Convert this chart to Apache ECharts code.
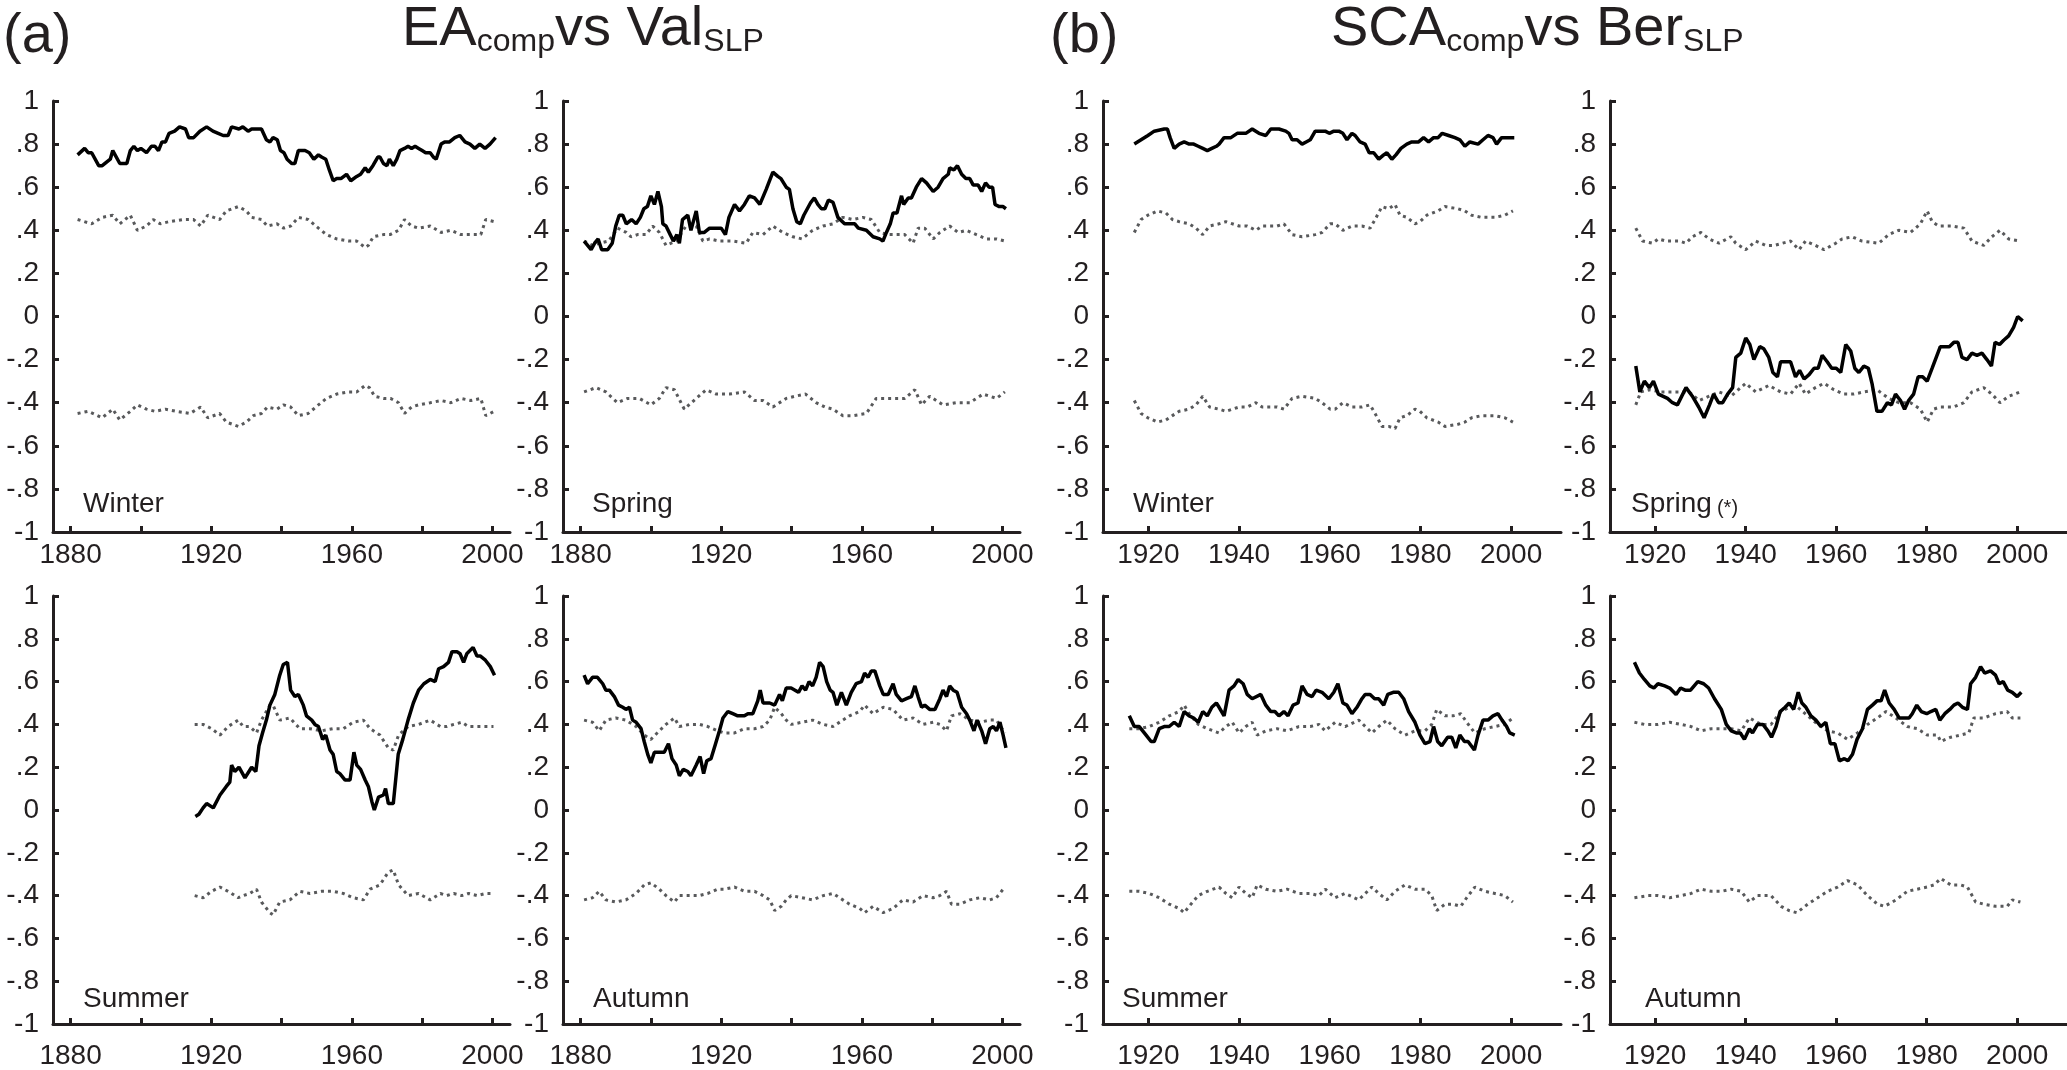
<!DOCTYPE html>
<html><head><meta charset="utf-8">
<script src="https://cdn.jsdelivr.net/npm/echarts@6/dist/echarts.min.js"></script>
<style>html,body{margin:0;padding:0;background:#fff}#c{width:2067px;height:1070px}</style>
</head><body><div id="c"></div>
<script>
// ---------- DATA (year, correlation) ----------
const aYearTicks = [1880,1900,1920,1940,1960,1980,2000];
const aYearLabels = [1880,1920,1960,2000];
const bYearTicks = [1920,1940,1960,1980,2000];
const bYearLabels = [1920,1940,1960,1980,2000];

const aWinterR = [[1882,0.75],[1884,0.78],[1885,0.76],[1886,0.76],[1888,0.70],[1889,0.70],[1890.5,0.72],[1891.3,0.73],[1892,0.77],[1894,0.71],[1896,0.71],[1897,0.77],[1898,0.79],[1899,0.77],[1900,0.78],[1901.6,0.76],[1903,0.79],[1904,0.79],[1905,0.77],[1906,0.81],[1907,0.81],[1908,0.85],[1909.6,0.86],[1911,0.88],[1912.7,0.87],[1913.6,0.83],[1915,0.83],[1916.8,0.86],[1918.7,0.88],[1920.5,0.86],[1922,0.85],[1923.4,0.84],[1924.8,0.84],[1925.8,0.88],[1927.9,0.87],[1929,0.88],[1930.5,0.86],[1931.5,0.87],[1934.3,0.87],[1935.7,0.82],[1936.7,0.81],[1937.6,0.83],[1938.8,0.82],[1939.7,0.77],[1940.7,0.76],[1941.6,0.73],[1942.9,0.71],[1943.8,0.71],[1944.8,0.77],[1945.7,0.77],[1946.7,0.77],[1947.9,0.76],[1949.2,0.73],[1950.5,0.75],[1951.4,0.74],[1952.6,0.73],[1953.6,0.68],[1954.7,0.63],[1955.7,0.64],[1956.9,0.64],[1958.5,0.66],[1959.7,0.63],[1961.4,0.65],[1962.5,0.66],[1963.8,0.69],[1964.7,0.67],[1966,0.70],[1967.4,0.74],[1968,0.74],[1969,0.71],[1970,0.70],[1970.7,0.73],[1971.8,0.70],[1972.8,0.73],[1973.7,0.77],[1975,0.78],[1976,0.79],[1977,0.78],[1978,0.79],[1979,0.78],[1980,0.77],[1981,0.76],[1982.3,0.76],[1983.2,0.74],[1984,0.73],[1985.4,0.80],[1986.4,0.81],[1987.8,0.81],[1989.3,0.83],[1990.7,0.84],[1992.2,0.81],[1993.6,0.80],[1995,0.78],[1996.4,0.80],[1997.9,0.78],[1999.3,0.80],[2000.9,0.83]];
const aWinterUp = [[1882,0.45],[1886,0.43],[1889,0.46],[1892,0.47],[1894,0.43],[1897,0.47],[1899,0.40],[1901.6,0.42],[1903.5,0.45],[1905.5,0.43],[1908,0.44],[1912,0.45],[1915,0.45],[1917,0.42],[1919,0.47],[1922.4,0.45],[1924.3,0.49],[1927.7,0.51],[1930,0.49],[1931.5,0.46],[1934.3,0.45],[1936,0.42],[1938.7,0.43],[1940.6,0.41],[1942.6,0.42],[1944.8,0.46],[1947.6,0.45],[1950.5,0.41],[1952.8,0.38],[1955.7,0.36],[1959,0.35],[1961.4,0.35],[1963.8,0.32],[1964.7,0.33],[1966.1,0.37],[1969,0.38],[1970.9,0.38],[1973.3,0.40],[1975,0.45],[1977,0.42],[1979,0.41],[1982.3,0.42],[1985.4,0.39],[1988.2,0.40],[1991,0.38],[1993.9,0.38],[1996.7,0.38],[1998.1,0.45],[2000.5,0.44]];
const aWinterLo = [[1882,-0.45],[1885,-0.44],[1889,-0.47],[1892,-0.43],[1894,-0.48],[1897,-0.44],[1899,-0.41],[1901.6,-0.43],[1904,-0.44],[1907,-0.43],[1910,-0.44],[1914,-0.45],[1917,-0.42],[1919,-0.47],[1922.4,-0.45],[1924.3,-0.49],[1927.7,-0.51],[1930,-0.49],[1932,-0.46],[1934.3,-0.45],[1936,-0.42],[1938.7,-0.43],[1940.6,-0.41],[1942.6,-0.42],[1944.8,-0.46],[1947.6,-0.45],[1950.5,-0.41],[1952.8,-0.38],[1955.7,-0.36],[1959,-0.35],[1961.4,-0.35],[1963.8,-0.32],[1965,-0.33],[1966.5,-0.37],[1969,-0.38],[1971,-0.38],[1973.3,-0.40],[1975,-0.45],[1977,-0.42],[1979,-0.41],[1982.3,-0.40],[1985.4,-0.39],[1988.2,-0.40],[1991,-0.38],[1993.9,-0.39],[1996.7,-0.38],[1998.1,-0.46],[2000.5,-0.44]];

const aSpringR = [[1881,0.35],[1883,0.31],[1884,0.34],[1885,0.36],[1886,0.31],[1887.7,0.31],[1889,0.34],[1890,0.42],[1891,0.47],[1892,0.47],[1893,0.43],[1894.5,0.45],[1895.8,0.43],[1897,0.46],[1898,0.50],[1899,0.51],[1900,0.56],[1901,0.52],[1902,0.58],[1903,0.51],[1903.4,0.43],[1904.3,0.42],[1905.5,0.38],[1906.4,0.35],[1907.4,0.38],[1908.1,0.34],[1909,0.45],[1910.5,0.47],[1911.4,0.40],[1912.9,0.49],[1913.8,0.39],[1915.2,0.39],[1916.7,0.41],[1918.6,0.41],[1920,0.41],[1921.2,0.38],[1922.2,0.46],[1923.8,0.52],[1925.2,0.49],[1926.6,0.52],[1928,0.56],[1929.5,0.55],[1931,0.52],[1932.8,0.59],[1934.7,0.67],[1936.1,0.65],[1937,0.64],[1938.5,0.60],[1939.4,0.59],[1940.4,0.50],[1941.5,0.44],[1942.5,0.43],[1943.5,0.47],[1944.5,0.50],[1945.5,0.53],[1946.5,0.55],[1947.5,0.52],[1948.5,0.50],[1949.5,0.50],[1950.5,0.54],[1951.8,0.53],[1953.2,0.46],[1955.1,0.43],[1957,0.43],[1958,0.43],[1959,0.41],[1961.3,0.40],[1963.2,0.37],[1965.1,0.36],[1966,0.35],[1967,0.39],[1968.1,0.43],[1968.9,0.48],[1970,0.48],[1971.3,0.56],[1971.9,0.52],[1973.2,0.55],[1974.1,0.55],[1975.5,0.60],[1977,0.64],[1978.4,0.62],[1980.3,0.58],[1981.7,0.60],[1983.1,0.64],[1984.6,0.66],[1985,0.69],[1986.2,0.68],[1987.2,0.70],[1988.4,0.66],[1989.6,0.64],[1990.7,0.64],[1991.7,0.61],[1993.1,0.61],[1994.1,0.58],[1995.2,0.62],[1996.2,0.60],[1997.2,0.60],[1997.9,0.52],[1999.1,0.51],[2000.2,0.51],[2001,0.50]];
const aSpringUp = [[1881,0.35],[1883.4,0.33],[1885.3,0.34],[1888,0.35],[1890.5,0.41],[1893,0.39],[1894.3,0.37],[1896.2,0.38],[1898.6,0.38],[1900.5,0.42],[1902.4,0.39],[1904.3,0.33],[1907.2,0.35],[1910,0.42],[1912.9,0.42],[1914.8,0.35],[1916.7,0.36],[1919.5,0.35],[1923.3,0.35],[1927.1,0.34],[1929,0.39],[1931.9,0.38],[1934.7,0.42],[1937.5,0.39],[1940.4,0.37],[1943,0.36],[1946,0.40],[1949,0.42],[1951.8,0.43],[1954.6,0.46],[1957.5,0.45],[1960.3,0.46],[1962.7,0.45],[1965.1,0.39],[1967.5,0.38],[1970.3,0.38],[1972.2,0.38],[1974.6,0.34],[1976,0.41],[1977.9,0.41],[1980.3,0.36],[1982.2,0.39],[1985,0.42],[1987.4,0.39],[1989.8,0.40],[1992.6,0.38],[1995.5,0.36],[1998.3,0.36],[2000.7,0.35]];
const aSpringLo = [[1881,-0.35],[1884.4,-0.33],[1887.2,-0.35],[1890.5,-0.40],[1893.4,-0.38],[1896.7,-0.38],[1900,-0.41],[1902.4,-0.38],[1904.3,-0.33],[1906.7,-0.34],[1909.5,-0.43],[1912.9,-0.38],[1915.7,-0.34],[1918.6,-0.36],[1922.4,-0.36],[1926.6,-0.35],[1929.5,-0.39],[1931.9,-0.39],[1934.7,-0.42],[1938.5,-0.38],[1941,-0.37],[1944,-0.36],[1947,-0.40],[1949.5,-0.42],[1951.8,-0.43],[1954.6,-0.46],[1957.5,-0.46],[1961.3,-0.45],[1964.1,-0.38],[1968,-0.38],[1972.2,-0.38],[1975.1,-0.34],[1977,-0.41],[1979.3,-0.37],[1983.1,-0.41],[1986.9,-0.40],[1990.7,-0.40],[1994.5,-0.36],[1998.3,-0.38],[2000.7,-0.35]];

const aSummerR = [[1915.5,-0.03],[1916.5,-0.02],[1917.7,0.01],[1918.7,0.03],[1920.6,0.01],[1922.5,0.07],[1924.3,0.11],[1925.3,0.13],[1925.8,0.21],[1926.7,0.18],[1927.9,0.20],[1929.6,0.15],[1931.5,0.20],[1932.7,0.18],[1933.6,0.30],[1934.6,0.36],[1935.7,0.42],[1936.7,0.49],[1938.1,0.54],[1939.5,0.63],[1940.5,0.68],[1941.7,0.69],[1942.6,0.56],[1943.8,0.53],[1944.8,0.54],[1946.2,0.49],[1947.1,0.44],[1948.6,0.42],[1949.5,0.40],[1950.5,0.39],[1951.7,0.33],[1952.6,0.35],[1953.8,0.28],[1954.7,0.26],[1955.7,0.18],[1956.6,0.17],[1958.1,0.14],[1959.5,0.14],[1960.6,0.27],[1961.4,0.21],[1962.5,0.19],[1963.8,0.14],[1964.7,0.11],[1965.7,0.04],[1966.4,0.00],[1967.6,0.06],[1969,0.07],[1969.6,0.10],[1970.4,0.03],[1971.8,0.03],[1973.2,0.26],[1974.5,0.33],[1976,0.42],[1977.5,0.50],[1979,0.56],[1980.5,0.59],[1982.3,0.61],[1983.7,0.60],[1984.7,0.66],[1986.1,0.67],[1987.5,0.69],[1988.5,0.74],[1989.9,0.74],[1990.8,0.73],[1991.8,0.69],[1992.7,0.73],[1994.5,0.76],[1995.6,0.72],[1996.5,0.72],[1998,0.70],[1999.4,0.67],[2000.6,0.63]];
const aSummerUp = [[1915.3,0.40],[1917.7,0.40],[1920.1,0.38],[1922.5,0.35],[1924.8,0.39],[1927.7,0.42],[1929.1,0.39],[1931,0.39],[1932.9,0.36],[1934.3,0.42],[1936.7,0.49],[1937.6,0.49],[1939.5,0.42],[1942.4,0.43],[1945.2,0.38],[1948.1,0.38],[1951.4,0.37],[1954.7,0.38],[1957.6,0.38],[1960.4,0.41],[1963.3,0.42],[1965.2,0.38],[1968,0.35],[1970.4,0.29],[1971.8,0.28],[1973.3,0.35],[1976,0.39],[1979,0.40],[1982.3,0.42],[1985.2,0.39],[1987,0.39],[1989,0.40],[1991.3,0.41],[1993.2,0.39],[1995.6,0.39],[1998,0.39],[2000.3,0.39]];
const aSummerLo = [[1915.3,-0.40],[1917.7,-0.41],[1920.1,-0.38],[1922.5,-0.36],[1924.8,-0.38],[1927.7,-0.41],[1929.1,-0.40],[1931,-0.39],[1932.9,-0.37],[1934.3,-0.43],[1936.7,-0.48],[1937.6,-0.49],[1939.5,-0.43],[1942.4,-0.42],[1945.2,-0.38],[1948.1,-0.39],[1951.4,-0.38],[1954.7,-0.38],[1957.6,-0.39],[1960.4,-0.41],[1963.3,-0.42],[1965.2,-0.37],[1968,-0.35],[1970.4,-0.29],[1971.8,-0.28],[1973.3,-0.35],[1976,-0.40],[1979,-0.39],[1982.3,-0.42],[1985.2,-0.39],[1987,-0.40],[1989,-0.39],[1991.3,-0.40],[1993.2,-0.39],[1995.6,-0.40],[1998,-0.39],[2000.3,-0.39]];

const aAutumnR = [[1881,0.63],[1882,0.59],[1883.4,0.62],[1884.8,0.62],[1886.3,0.59],[1887.2,0.56],[1888.2,0.56],[1889.6,0.53],[1890.8,0.49],[1892,0.48],[1892.9,0.47],[1893.9,0.48],[1894.8,0.42],[1895.8,0.41],[1897.2,0.38],[1898.1,0.32],[1899.1,0.26],[1900,0.22],[1901,0.27],[1902.4,0.27],[1903.8,0.27],[1905,0.31],[1906,0.24],[1907.2,0.21],[1908.1,0.16],[1909.2,0.19],[1910.5,0.18],[1911.4,0.16],[1912.9,0.21],[1914,0.25],[1915,0.17],[1915.9,0.23],[1917.1,0.24],[1918.4,0.31],[1919.5,0.37],[1920.5,0.43],[1921.9,0.46],[1923.3,0.45],[1924.7,0.44],[1925.7,0.44],[1926.6,0.44],[1927.6,0.45],[1929,0.45],[1930.4,0.51],[1931.1,0.56],[1931.9,0.50],[1933.8,0.50],[1935.2,0.49],[1936.6,0.54],[1937.4,0.51],[1938.5,0.57],[1939.9,0.57],[1941,0.56],[1942,0.55],[1943,0.58],[1944,0.56],[1945,0.60],[1946,0.58],[1947,0.62],[1948,0.69],[1949,0.67],[1950,0.60],[1951,0.56],[1951.8,0.55],[1952.9,0.49],[1954.2,0.55],[1955.6,0.49],[1957,0.55],[1958.4,0.59],[1959.9,0.60],[1960.8,0.64],[1961.8,0.62],[1962.7,0.65],[1963.7,0.65],[1965.1,0.58],[1966.1,0.54],[1967.5,0.54],[1968.9,0.59],[1969.8,0.54],[1971.3,0.51],[1972.7,0.52],[1974.1,0.53],[1975.1,0.58],[1976,0.53],[1977,0.48],[1977.9,0.49],[1979.3,0.47],[1980.8,0.47],[1982.2,0.52],[1983.1,0.56],[1984.1,0.53],[1985,0.58],[1986,0.56],[1987.1,0.55],[1988.4,0.48],[1989.8,0.45],[1990.7,0.42],[1991.9,0.37],[1992.8,0.42],[1994.1,0.37],[1995.2,0.31],[1996.4,0.38],[1997.4,0.39],[1998.3,0.37],[1999.3,0.41],[2000.2,0.35],[2001,0.29]];
const aAutumnUp = [[1881,0.42],[1883.4,0.41],[1885.3,0.37],[1887.2,0.42],[1890,0.43],[1892.9,0.42],[1895.8,0.39],[1898.1,0.35],[1900,0.33],[1902.4,0.37],[1904.3,0.40],[1906.7,0.43],[1908.1,0.39],[1911,0.40],[1913.8,0.40],[1916.2,0.39],[1919,0.37],[1920.9,0.36],[1923.8,0.36],[1926.6,0.38],[1929.5,0.38],[1931.9,0.39],[1933.8,0.42],[1935.2,0.48],[1937.1,0.45],[1938.5,0.42],[1939.9,0.40],[1943,0.41],[1946,0.42],[1949,0.40],[1951.8,0.39],[1954.6,0.42],[1956.5,0.44],[1959.4,0.46],[1960.8,0.49],[1963.2,0.45],[1966.1,0.48],[1968.9,0.47],[1971.7,0.42],[1974.6,0.43],[1977.4,0.40],[1980.3,0.41],[1982.2,0.40],[1984.1,0.37],[1985.5,0.44],[1987.9,0.45],[1990.7,0.42],[1993.6,0.41],[1996.4,0.42],[1998.3,0.42],[2000.7,0.36]];
const aAutumnLo = [[1881,-0.42],[1883.4,-0.41],[1885.3,-0.38],[1887.2,-0.42],[1890,-0.43],[1892.9,-0.42],[1895.8,-0.39],[1898.1,-0.35],[1900,-0.34],[1902.4,-0.37],[1904.3,-0.40],[1906.7,-0.43],[1908.1,-0.40],[1911,-0.40],[1913.8,-0.40],[1916.2,-0.39],[1919,-0.37],[1920.9,-0.37],[1923.8,-0.36],[1926.6,-0.38],[1929.5,-0.38],[1931.9,-0.40],[1933.8,-0.42],[1935.2,-0.47],[1937.1,-0.45],[1938.5,-0.42],[1939.9,-0.40],[1943,-0.41],[1946,-0.42],[1949,-0.40],[1951.8,-0.39],[1954.6,-0.42],[1956.5,-0.44],[1959.4,-0.46],[1960.8,-0.48],[1963.2,-0.45],[1966.1,-0.48],[1968.9,-0.46],[1971.7,-0.42],[1974.6,-0.43],[1977.4,-0.40],[1980.3,-0.41],[1982.2,-0.40],[1984.1,-0.38],[1985.5,-0.44],[1987.9,-0.44],[1990.7,-0.42],[1993.6,-0.41],[1996.4,-0.42],[1998.3,-0.41],[2000.7,-0.36]];

const bWinterR = [[1916.9,0.80],[1918.4,0.82],[1919.9,0.84],[1921.3,0.86],[1923.5,0.87],[1924.2,0.87],[1924.8,0.83],[1925.7,0.78],[1926.8,0.80],[1927.9,0.81],[1929,0.80],[1930,0.80],[1931,0.79],[1932,0.78],[1933,0.77],[1934,0.78],[1935,0.79],[1935.6,0.80],[1936.7,0.83],[1938.2,0.83],[1939.6,0.85],[1941.5,0.85],[1942.9,0.87],[1944.4,0.85],[1945.9,0.84],[1947,0.87],[1948.8,0.87],[1950.3,0.86],[1951,0.85],[1951.7,0.82],[1952.8,0.82],[1953.9,0.80],[1954.8,0.81],[1955.7,0.82],[1956.8,0.86],[1957.9,0.86],[1959,0.86],[1959.9,0.85],[1960.9,0.86],[1962,0.86],[1962.9,0.85],[1963.8,0.82],[1964.9,0.85],[1965.6,0.84],[1966.7,0.81],[1967.8,0.80],[1968.7,0.76],[1969.7,0.76],[1970.8,0.73],[1971.9,0.75],[1972.6,0.76],[1973.7,0.73],[1974.6,0.75],[1975.7,0.78],[1977,0.80],[1978.1,0.81],[1979.6,0.81],[1980.7,0.83],[1981.8,0.81],[1982.9,0.83],[1983.9,0.83],[1984.8,0.85],[1986.2,0.84],[1987.6,0.83],[1988.7,0.82],[1989.8,0.79],[1990.9,0.81],[1992.7,0.80],[1993.8,0.82],[1994.9,0.84],[1996,0.83],[1996.8,0.80],[1997.9,0.83],[1999.3,0.83],[2000.7,0.83]];
const bWinterUp = [[1916.9,0.39],[1918.4,0.45],[1919.9,0.47],[1922,0.49],[1923.9,0.48],[1925.3,0.45],[1926.8,0.44],[1929,0.43],[1930.5,0.41],[1932,0.38],[1933.5,0.42],[1935.6,0.43],[1937.1,0.44],[1940,0.42],[1941.8,0.42],[1943.7,0.40],[1945.1,0.42],[1948.4,0.42],[1949.9,0.43],[1951.7,0.38],[1953.9,0.37],[1956.8,0.38],[1958.3,0.39],[1960.1,0.43],[1961.2,0.43],[1962.9,0.40],[1964.9,0.42],[1967.1,0.42],[1968.9,0.41],[1970,0.45],[1971.5,0.51],[1973,0.50],[1974.4,0.52],[1975.5,0.47],[1977,0.46],[1978.8,0.43],[1979.9,0.44],[1981.4,0.47],[1983.9,0.49],[1985.4,0.51],[1988.3,0.50],[1989.8,0.49],[1991.3,0.47],[1993.5,0.46],[1996.4,0.46],[1998.6,0.47],[2000.4,0.49]];
const bWinterLo = [[1916.9,-0.39],[1918.4,-0.45],[1919.9,-0.47],[1922,-0.49],[1923.9,-0.48],[1925.3,-0.46],[1926.8,-0.44],[1929,-0.43],[1930.5,-0.41],[1932,-0.37],[1933.5,-0.42],[1935.6,-0.43],[1937.1,-0.44],[1940,-0.42],[1941.8,-0.42],[1943.7,-0.40],[1945.1,-0.42],[1948.4,-0.42],[1949.9,-0.43],[1951.7,-0.38],[1953.9,-0.37],[1956.8,-0.38],[1958.3,-0.40],[1960.1,-0.43],[1961.2,-0.43],[1962.9,-0.40],[1964.9,-0.42],[1967.1,-0.42],[1968.9,-0.41],[1970,-0.45],[1971.5,-0.51],[1973,-0.51],[1974.4,-0.52],[1975.5,-0.47],[1977,-0.46],[1978.8,-0.43],[1979.9,-0.44],[1981.4,-0.47],[1983.9,-0.49],[1985.4,-0.51],[1988.3,-0.50],[1989.8,-0.49],[1991.3,-0.47],[1993.5,-0.46],[1996.4,-0.46],[1998.6,-0.47],[2000.4,-0.49]];

const bSpringR = [[1915.7,-0.23],[1916.6,-0.35],[1917.6,-0.30],[1918.7,-0.33],[1919.6,-0.30],[1920.7,-0.36],[1922.7,-0.38],[1923.8,-0.40],[1924.9,-0.41],[1926.8,-0.33],[1928.2,-0.37],[1929.6,-0.42],[1930.8,-0.47],[1932,-0.41],[1932.9,-0.36],[1934,-0.40],[1934.9,-0.40],[1936,-0.36],[1937.1,-0.33],[1937.8,-0.19],[1938.9,-0.17],[1940,-0.10],[1940.9,-0.13],[1941.8,-0.20],[1943.1,-0.14],[1944,-0.15],[1945.1,-0.19],[1946,-0.26],[1947,-0.28],[1947.7,-0.21],[1948.8,-0.21],[1949.9,-0.21],[1951,-0.28],[1951.9,-0.25],[1952.9,-0.29],[1954,-0.27],[1955.1,-0.24],[1956,-0.24],[1956.9,-0.18],[1958,-0.21],[1959,-0.24],[1960,-0.24],[1961,-0.26],[1962.1,-0.13],[1963.2,-0.16],[1964.1,-0.24],[1965,-0.26],[1966.1,-0.23],[1967.1,-0.24],[1967.9,-0.31],[1969,-0.44],[1970.1,-0.44],[1971.3,-0.40],[1972.2,-0.41],[1973.1,-0.36],[1974.2,-0.39],[1975.1,-0.43],[1976,-0.39],[1977.1,-0.36],[1978.1,-0.28],[1979.1,-0.28],[1980.1,-0.30],[1981.2,-0.24],[1982.1,-0.19],[1983,-0.14],[1984.1,-0.14],[1985,-0.14],[1986,-0.12],[1986.9,-0.12],[1987.8,-0.19],[1988.9,-0.20],[1990,-0.17],[1991.1,-0.18],[1992.2,-0.17],[1993.3,-0.20],[1994.3,-0.23],[1995.1,-0.12],[1996.1,-0.13],[1997,-0.11],[1998.1,-0.09],[1999.2,-0.05],[2000.1,0.00],[2001.2,-0.02]];
const bSpringUp = [[1915.7,0.41],[1917.2,0.35],[1919.4,0.34],[1920.7,0.36],[1922.4,0.35],[1925.3,0.35],[1926.8,0.34],[1928.2,0.37],[1930.1,0.39],[1931.9,0.36],[1934.1,0.34],[1936.7,0.37],[1937.8,0.34],[1940,0.31],[1942.2,0.35],[1944.4,0.33],[1946.3,0.33],[1948.1,0.34],[1949.9,0.35],[1951.8,0.31],[1953.2,0.35],[1955.4,0.33],[1957.3,0.31],[1959.9,0.34],[1961.3,0.36],[1963.5,0.37],[1965.7,0.35],[1969.4,0.34],[1971.6,0.38],[1973.8,0.40],[1976.4,0.39],[1978.6,0.43],[1980.1,0.49],[1981.2,0.44],[1982.6,0.42],[1985.6,0.42],[1988.2,0.41],[1990,0.35],[1992.6,0.33],[1994.4,0.37],[1996.2,0.40],[1998.1,0.36],[2000.7,0.35]];
const bSpringLo = [[1915.7,-0.41],[1916.8,-0.35],[1918.7,-0.34],[1921.2,-0.35],[1923.5,-0.35],[1925.3,-0.35],[1927.5,-0.35],[1929.7,-0.39],[1931.9,-0.37],[1934.1,-0.35],[1936.7,-0.37],[1940,-0.31],[1942.2,-0.35],[1945.1,-0.32],[1947.7,-0.35],[1949.9,-0.36],[1951.8,-0.31],[1953.2,-0.36],[1955.4,-0.33],[1957.3,-0.31],[1959.5,-0.34],[1961.7,-0.36],[1963.9,-0.36],[1966.1,-0.35],[1969,-0.34],[1971.6,-0.38],[1973.8,-0.40],[1976.4,-0.40],[1978.6,-0.43],[1980.1,-0.49],[1981.5,-0.43],[1983,-0.42],[1985.9,-0.42],[1988.2,-0.40],[1990,-0.35],[1992.6,-0.33],[1994.4,-0.36],[1996.2,-0.40],[1998.1,-0.37],[2000.7,-0.35]];

const bSummerR = [[1915.8,0.44],[1916.9,0.39],[1918,0.39],[1919.5,0.35],[1920.6,0.32],[1921.3,0.32],[1922.4,0.38],[1923.5,0.39],[1924.6,0.39],[1925.7,0.41],[1926.8,0.39],[1927.9,0.46],[1929,0.44],[1930,0.43],[1931,0.41],[1932,0.46],[1933,0.44],[1934,0.48],[1935,0.50],[1935.6,0.48],[1936.7,0.44],[1937.8,0.56],[1938.9,0.58],[1939.8,0.61],[1940.9,0.59],[1941.8,0.54],[1942.9,0.52],[1944.8,0.54],[1945.9,0.49],[1947,0.46],[1947.9,0.46],[1948.8,0.44],[1949.9,0.46],[1950.8,0.44],[1951.9,0.49],[1953,0.50],[1953.9,0.58],[1955,0.54],[1956.1,0.53],[1957,0.56],[1958.3,0.55],[1959.8,0.52],[1960.9,0.55],[1961.8,0.59],[1962.9,0.50],[1963.8,0.49],[1964.9,0.45],[1966,0.48],[1967.1,0.52],[1967.8,0.54],[1968.9,0.54],[1969.9,0.52],[1970.8,0.52],[1971.9,0.49],[1972.8,0.54],[1974,0.55],[1975.2,0.55],[1976.3,0.52],[1977.4,0.46],[1978.8,0.41],[1979.9,0.35],[1981,0.31],[1982.1,0.32],[1982.9,0.39],[1983.8,0.32],[1984.7,0.30],[1986,0.34],[1986.9,0.34],[1987.8,0.29],[1988.7,0.35],[1989.7,0.32],[1990.5,0.32],[1991.9,0.28],[1992.7,0.35],[1993.8,0.42],[1994.9,0.42],[1996,0.44],[1997.1,0.45],[1998,0.42],[1999,0.39],[1999.7,0.36],[2000.8,0.35]];
const bSummerUp = [[1915.8,0.38],[1918,0.38],[1920.2,0.39],[1922.4,0.41],[1924.6,0.44],[1926.8,0.46],[1927.9,0.49],[1929,0.45],[1931,0.40],[1933,0.38],[1935.6,0.36],[1937.1,0.39],[1938.5,0.41],[1940,0.36],[1941.5,0.39],[1942.9,0.41],[1944,0.35],[1945.9,0.37],[1948.4,0.38],[1950.6,0.37],[1953.2,0.39],[1955.7,0.39],[1957.6,0.40],[1959,0.37],[1961.2,0.41],[1963.4,0.39],[1966.4,0.42],[1969.3,0.36],[1970.8,0.39],[1972.6,0.42],[1974.4,0.38],[1976.6,0.35],[1978.8,0.37],[1981,0.37],[1982.5,0.40],[1983.6,0.47],[1985.4,0.44],[1987.2,0.44],[1988.9,0.45],[1990.2,0.41],[1992,0.36],[1994.2,0.38],[1996.4,0.39],[1998.6,0.40],[2000.4,0.43]];
const bSummerLo = [[1915.8,-0.38],[1918,-0.38],[1920.2,-0.39],[1922.4,-0.41],[1924.6,-0.44],[1926.8,-0.46],[1927.9,-0.48],[1929,-0.45],[1931,-0.40],[1933,-0.38],[1935.6,-0.36],[1937.1,-0.39],[1938.5,-0.41],[1940,-0.36],[1941.5,-0.39],[1942.9,-0.41],[1944,-0.35],[1945.9,-0.37],[1948.4,-0.38],[1950.6,-0.37],[1953.2,-0.39],[1955.7,-0.39],[1957.6,-0.40],[1959,-0.37],[1961.2,-0.41],[1963.4,-0.39],[1966.4,-0.42],[1969.3,-0.36],[1970.8,-0.39],[1972.6,-0.42],[1974.4,-0.38],[1976.6,-0.35],[1978.8,-0.37],[1981,-0.37],[1982.5,-0.40],[1983.6,-0.47],[1985.4,-0.44],[1987.2,-0.44],[1988.9,-0.45],[1990.2,-0.41],[1992,-0.36],[1994.2,-0.38],[1996.4,-0.39],[1998.6,-0.40],[2000.4,-0.43]];

const bAutumnR = [[1915.4,0.69],[1916.5,0.64],[1917.6,0.61],[1918.8,0.58],[1919.7,0.57],[1920.6,0.59],[1922.1,0.58],[1923.2,0.57],[1924.6,0.54],[1925.6,0.57],[1926.6,0.56],[1927.8,0.56],[1929.4,0.60],[1930.7,0.59],[1931.8,0.57],[1933.1,0.52],[1934.6,0.47],[1935.7,0.40],[1936.8,0.37],[1937.9,0.36],[1938.8,0.36],[1939.7,0.33],[1940.8,0.38],[1941.5,0.36],[1942.6,0.40],[1943.8,0.40],[1944.9,0.37],[1945.7,0.34],[1946.7,0.39],[1947.6,0.46],[1948.7,0.48],[1949.6,0.50],[1950.6,0.47],[1951.6,0.55],[1952.4,0.50],[1953.3,0.48],[1954.4,0.44],[1955.5,0.42],[1956.6,0.39],[1957.7,0.41],[1958.7,0.31],[1959.7,0.31],[1960.7,0.23],[1961.8,0.24],[1962.6,0.23],[1963.6,0.26],[1964.6,0.33],[1965.8,0.38],[1966.9,0.47],[1968,0.49],[1969,0.51],[1969.9,0.51],[1970.7,0.56],[1971.7,0.50],[1972.8,0.47],[1973.9,0.43],[1975,0.43],[1976.1,0.43],[1976.8,0.45],[1977.8,0.49],[1978.8,0.46],[1980,0.45],[1980.9,0.46],[1982,0.47],[1982.9,0.42],[1984,0.45],[1985.1,0.47],[1986,0.49],[1986.9,0.50],[1987.9,0.48],[1989,0.47],[1989.7,0.59],[1990.8,0.62],[1991.9,0.67],[1992.8,0.64],[1994.1,0.65],[1995.2,0.63],[1996,0.59],[1996.9,0.60],[1997.9,0.56],[1998.9,0.55],[2000,0.53],[2000.9,0.55]];
const bAutumnUp = [[1915.4,0.41],[1917.6,0.40],[1920.6,0.40],[1923.2,0.41],[1925.7,0.40],[1927.9,0.39],[1930.1,0.37],[1932.4,0.38],[1934.6,0.38],[1936.8,0.38],[1939,0.37],[1940.8,0.43],[1943.4,0.40],[1945.6,0.40],[1947.8,0.46],[1949.6,0.48],[1951.5,0.48],[1953.7,0.44],[1955.9,0.40],[1958.1,0.37],[1960.3,0.36],[1962.5,0.33],[1964.7,0.36],[1966.9,0.40],[1969.1,0.43],[1971,0.46],[1973.2,0.43],[1975.7,0.39],[1977.9,0.38],[1980.1,0.35],[1982.4,0.35],[1983.1,0.32],[1985.3,0.34],[1987.5,0.35],[1989.3,0.36],[1990.4,0.43],[1992.6,0.43],[1995.2,0.45],[1997.8,0.46],[1998.9,0.43],[2000.7,0.43]];
const bAutumnLo = [[1915.4,-0.41],[1918.4,-0.40],[1920.6,-0.40],[1923.2,-0.41],[1925.7,-0.40],[1927.9,-0.39],[1930.1,-0.37],[1932.4,-0.38],[1934.6,-0.38],[1936.8,-0.37],[1939,-0.38],[1940.8,-0.43],[1942.6,-0.40],[1945.6,-0.40],[1947.8,-0.45],[1949.6,-0.47],[1951.3,-0.48],[1953.7,-0.44],[1955.9,-0.41],[1958.1,-0.38],[1960.3,-0.36],[1962.5,-0.33],[1964.7,-0.35],[1966.9,-0.40],[1969.1,-0.44],[1970.7,-0.45],[1973.2,-0.42],[1975.7,-0.38],[1977.9,-0.37],[1980.1,-0.36],[1981.6,-0.35],[1983.1,-0.32],[1985.3,-0.35],[1987.5,-0.35],[1989,-0.36],[1990.8,-0.43],[1992.6,-0.44],[1995.2,-0.45],[1997.8,-0.45],[1998.9,-0.42],[2000.7,-0.43]];

const seasonNames = ['Winter','Spring','Summer','Autumn'];

// ---------- LAYOUT ----------
const AX = '#231f20';
const FONT = '"Liberation Sans", Arial, Helvetica, sans-serif';
const ROW_TOP = [101, 596];
const GRID_H = 431;
const panels = [
  {r:aWinterR, up:aWinterUp, lo:aWinterLo, left:53,   row:0, set:'a', name:seasonNames[0], lx:83},
  {r:aSpringR, up:aSpringUp, lo:aSpringLo, left:563,  row:0, set:'a', name:seasonNames[1], lx:592},
  {r:aSummerR, up:aSummerUp, lo:aSummerLo, left:53,   row:1, set:'a', name:seasonNames[2], lx:83},
  {r:aAutumnR, up:aAutumnUp, lo:aAutumnLo, left:563,  row:1, set:'a', name:seasonNames[3], lx:593},
  {r:bWinterR, up:bWinterUp, lo:bWinterLo, left:1103, row:0, set:'b', name:seasonNames[0], lx:1133},
  {r:bSpringR, up:bSpringUp, lo:bSpringLo, left:1610, row:0, set:'b', name:seasonNames[1], lx:1631, star:true},
  {r:bSummerR, up:bSummerUp, lo:bSummerLo, left:1103, row:1, set:'b', name:seasonNames[2], lx:1122},
  {r:bAutumnR, up:bAutumnUp, lo:bAutumnLo, left:1610, row:1, set:'b', name:seasonNames[3], lx:1645}
];
const SETS = {
  a: {min:1875, max:2005, width:457, ticks:aYearTicks, labels:aYearLabels},
  b: {min:1910, max:2011, width:458, ticks:bYearTicks, labels:bYearLabels}
};

function yFmt(v){
  const r = Math.round(v*10)/10;
  if (r === 0) return '0';
  if (r === 1) return '1';
  if (r === -1) return '-1';
  return (r < 0 ? '-' : '') + Math.abs(r).toFixed(1).slice(1);
}

const grid = [], xAxis = [], yAxis = [], series = [], title = [];
panels.forEach((p, i) => {
  const s = SETS[p.set];
  grid.push({left:p.left, top:ROW_TOP[p.row], width:s.width, height:GRID_H, containLabel:false});
  xAxis.push({
    type:'value', gridIndex:i, min:s.min, max:s.max, position:'bottom',
    axisLine:{show:true, onZero:false, lineStyle:{color:AX, width:3}},
    axisTick:{show:true, inside:true, length:6, customValues:s.ticks, lineStyle:{color:AX, width:3}},
    axisLabel:{show:true, customValues:s.labels, formatter:v=>String(v), margin:p.row===0?9:18,
      fontSize:28, color:AX, fontFamily:FONT},
    splitLine:{show:false}
  });
  yAxis.push({
    type:'value', gridIndex:i, min:-1, max:1, interval:0.2, position:'left',
    axisLine:{show:true, onZero:false, lineStyle:{color:AX, width:3}},
    axisTick:{show:true, inside:true, length:6, lineStyle:{color:AX, width:3}},
    axisLabel:{show:true, formatter:yFmt, margin:14, fontSize:28, color:AX, fontFamily:FONT,
      showMinLabel:true, showMaxLabel:true},
    splitLine:{show:false}
  });
  const common = {type:'line', xAxisIndex:i, yAxisIndex:i, showSymbol:false, symbol:'none', silent:true, animation:false};
  series.push(Object.assign({}, common, {data:p.up, z:2, lineStyle:{color:'#58595b', width:3, type:[3,4]}}));
  series.push(Object.assign({}, common, {data:p.lo, z:2, lineStyle:{color:'#58595b', width:3, type:[3,4]}}));
  series.push(Object.assign({}, common, {data:p.r, z:3, lineStyle:{color:'#000', width:3.5}}));
  const lblTop = ROW_TOP[p.row] + 387;
  title.push({
    left:p.lx, top:lblTop, padding:0,
    text: p.star ? '{n|' + p.name + '}{s|(*)}' : '{n|' + p.name + '}',
    textStyle:{fontWeight:'normal', rich:{
      n:{fontSize:28, lineHeight:30, color:AX, fontFamily:FONT, fontWeight:'normal', verticalAlign:'bottom'},
      s:{fontSize:20, lineHeight:24, color:AX, fontFamily:FONT, fontWeight:'normal', verticalAlign:'bottom', padding:[0,0,0,5]}
    }}
  });
});

const mainRich = {
  m:{fontSize:56, lineHeight:56, color:AX, fontFamily:FONT, fontWeight:'normal', verticalAlign:'bottom'},
  s:{fontSize:32, lineHeight:18, color:AX, fontFamily:FONT, fontWeight:'normal', verticalAlign:'bottom'}
};
title.push({left:3, top:9, padding:0, text:'{m|(a)}', textStyle:{fontWeight:'normal', rich:mainRich}});
title.push({left:402, top:2, padding:0, text:'{m|EA}{s|comp}{m|vs Val}{s|SLP}', textStyle:{fontWeight:'normal', rich:mainRich}});
title.push({left:1050, top:9, padding:0, text:'{m|(b)}', textStyle:{fontWeight:'normal', rich:mainRich}});
title.push({left:1331, top:2, padding:0, text:'{m|SCA}{s|comp}{m|vs Ber}{s|SLP}', textStyle:{fontWeight:'normal', rich:mainRich}});

const chart = echarts.init(document.getElementById('c'), null, {renderer:'canvas'});
chart.setOption({
  animation:false,
  backgroundColor:'#fff',
  title, grid, xAxis, yAxis, series
});
</script></body></html>
